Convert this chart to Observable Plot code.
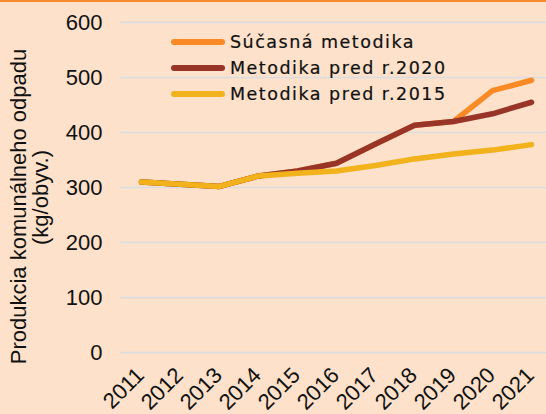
<!DOCTYPE html>
<html><head><meta charset="utf-8">
<script src="https://cdn.jsdelivr.net/npm/d3@7"></script>
<script src="https://cdn.jsdelivr.net/npm/@observablehq/plot@0.6"></script>
<style>
body{margin:0;background:#fde1ca}
#wrap{position:relative;width:546px;height:414px;overflow:hidden}
#topline{position:absolute;left:0;top:0;width:546px;height:2px;background:#f58a2e}
#legend{position:absolute;left:0;top:0;font-family:"DejaVu Sans",sans-serif;font-size:17.5px;letter-spacing:1.5px;color:#111;-webkit-text-stroke:0.2px #111}
.row{position:absolute;left:171px;height:26px;display:flex;align-items:center;white-space:nowrap}
.sw{width:54px;height:6px;border-radius:3px;margin-right:5px}
</style>
</head><body><div id="wrap"><div id="topline"></div></div>
<script>
const years = [2011,2012,2013,2014,2015,2016,2017,2018,2019,2020,2021];
const seriesNames = ["Súčasná metodika","Metodika pred r.2020","Metodika pred r.2015"];
const seriesColors = ["#f98a26","#993428","#f1b21c"];
const current  = [310,306,302,321,330,344,379,413,420,476,495];
const pre2020  = [310,306,302,321,330,344,379,413,420,434,455];
const pre2015  = [310,306,302,321,326,330,340,352,361,368,378];
const yTicks = [0,100,200,300,400,500,600];
const yTitle1 = "Produkcia komunálneho odpadu";
const yTitle2 = "(kg/obyv.)";

const seriesValues = [current, pre2020, pre2015];
const data = seriesNames.flatMap((s,i)=>years.map((y,j)=>({series:s, year:y, value:seriesValues[i][j]})));

const chart = Plot.plot({
  width:546, height:414,
  marginLeft:120, marginRight:0, marginTop:22, marginBottom:62,
  style:{background:"#fde1ca", fontFamily:"'Liberation Sans', Arial, sans-serif", color:"#111", overflow:"visible"},
  x:{type:"point", domain:years, range:[140,531], padding:0, axis:null},
  y:{domain:[0,600], range:[352,22], axis:null},
  color:{domain:seriesNames, range:seriesColors},
  marks:[
    Plot.ruleY(yTicks,{stroke:"#d8dde2", strokeWidth:1.5}),
    Plot.axisY({ticks:yTicks, tickSize:0, tickPadding:18, fontSize:22, label:null}),
    Plot.text(years,{x:d=>d, text:d=>String(d), frameAnchor:"bottom", rotate:-45, textAnchor:"end", fontSize:22, dx:4, dy:24}),
    Plot.line(data,{x:"year", y:"value", z:"series", stroke:"series", strokeWidth:5.5, strokeLinecap:"round", strokeLinejoin:"round"}),
    Plot.text([yTitle1],{frameAnchor:"left", rotate:-90, fontSize:22, textAnchor:"middle", dx:-102, dy:19}),
    Plot.text([yTitle2],{frameAnchor:"left", rotate:-90, fontSize:22, textAnchor:"middle", dx:-80, dy:10})
  ]
});
const wrap = document.getElementById("wrap");
wrap.insertBefore(chart, wrap.firstChild);

const legend = document.createElement("div");
legend.id = "legend";
const rowTops = [29,55,81];
seriesNames.forEach((s,i)=>{
  const r = document.createElement("div");
  r.className = "row";
  r.style.top = rowTops[i] + "px";
  const sw = document.createElement("span");
  sw.className = "sw";
  sw.style.background = seriesColors[i];
  const t = document.createElement("span");
  t.textContent = s;
  r.appendChild(sw); r.appendChild(t);
  legend.appendChild(r);
});
wrap.appendChild(legend);
</script>
</body></html>
